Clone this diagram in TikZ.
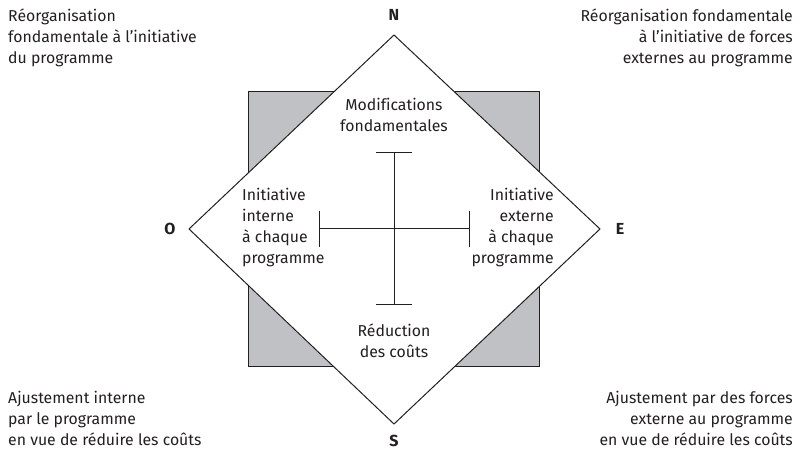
\documentclass[tikz,border=0pt]{standalone}
\usepackage{fontspec}
\setmainfont{Fira Sans}[Ligatures=NoCommon]
\usetikzlibrary{arrows.meta}
\definecolor{panelgray}{RGB}{192,193,196}
\definecolor{inkgray}{RGB}{35,31,32}
\tikzset{
  txt/.style={inner sep=0pt, font=\fontsize{15.8}{21}\selectfont, text=inkgray},
  pole/.style={inner sep=0pt, font=\fontsize{16}{18}\selectfont\bfseries, text=inkgray},
  edge/.style={draw=inkgray, line width=1pt},
}
\begin{document}
\begin{tikzpicture}[x=1pt,y=-1pt]
  \useasboundingbox (0,0) rectangle (801,454);
  % grey square behind the diamond
  \draw[edge, fill=panelgray] (248,92) rectangle (539,367);
  % diamond corners
  \coordinate (dn) at (394,35);
  \coordinate (de) at (600,229);
  \coordinate (ds) at (394,424);
  \coordinate (dw) at (189,229);
  \draw[edge, fill=white, line join=miter] (dn) -- (de) -- (ds) -- (dw) -- cycle;

  % cross with end bars
  \coordinate (vt) at (394,153);
  \coordinate (vb) at (394,305);
  \coordinate (hl) at (319,229);
  \coordinate (hr) at (469,229);
  \draw[edge] (vt) -- (vb);
  \draw[edge] (hl) -- (hr);
  \draw[edge] ([xshift=-18pt]vt) -- ([xshift=18pt]vt);
  \draw[edge] ([xshift=-18pt]vb) -- ([xshift=18pt]vb);
  \draw[edge] ([yshift=-18pt]hl) -- ([yshift=18pt]hl);
  \draw[edge] ([yshift=-18pt]hr) -- ([yshift=18pt]hr);

  % compass letters
  \node[pole] (pn) at (394,15) {N};
  \node[pole] (ps) at (394,441) {S};
  \node[pole] (pw) at (170,229) {O};
  \node[pole] (pe) at (620,229) {E};

  % texts inside the diamond
  \node[txt, align=center] (top) at (394,115) {Modifications\\fondamentales};
  \node[txt, align=center] (bot) at (394,341) {Réduction\\des coûts};
  \node[txt, align=left, anchor=west] (lft) at (242,228) {Initiative\\interne\\à chaque\\programme};
  \node[txt, align=right, anchor=east] (rgt) at (554,228) {Initiative\\externe\\à chaque\\programme};

  % corner texts
  \node[txt, align=left, anchor=west] (cnw) at (8,38) {Réorganisation\\fondamentale à l’initiative\\du programme};
  \node[txt, align=right, anchor=east] (cne) at (793,38) {Réorganisation fondamentale\\à l’initiative de forces\\externes au programme};
  \node[txt, align=left, anchor=west] (csw) at (8,418) {Ajustement interne\\par le programme\\en vue de réduire les coûts};
  \node[txt, align=right, anchor=east] (cse) at (793,418) {Ajustement par des forces\\externe au programme\\en vue de réduire les coûts};
\end{tikzpicture}
\end{document}
